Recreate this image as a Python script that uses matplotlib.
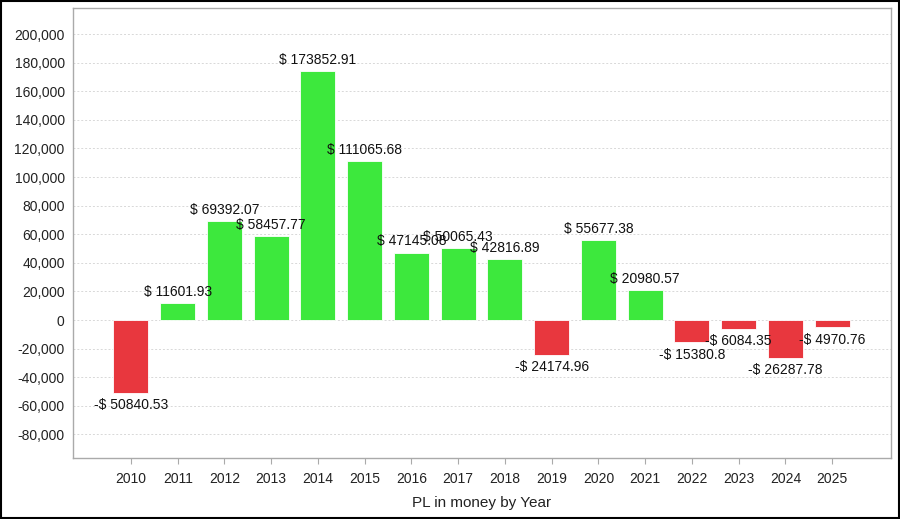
import matplotlib.pyplot as plt
from matplotlib.patches import Rectangle
from matplotlib.ticker import FuncFormatter, MultipleLocator

plt.rcParams['font.family'] = ['Liberation Sans', 'DejaVu Sans']

years = ['2010', '2011', '2012', '2013', '2014', '2015', '2016', '2017',
         '2018', '2019', '2020', '2021', '2022', '2023', '2024', '2025']
pl = [-50840.53, 11601.93, 69392.07, 58457.77, 173852.91, 111065.68,
      47145.08, 50065.43, 42816.89, -24174.96, 55677.38, 20980.57,
      -15380.8, -6084.35, -26287.78, -4970.76]

green = '#3de83d'
red = '#e8373e'

fig = plt.figure(figsize=(9, 5.19), dpi=100)
ax = fig.add_axes([0.0811, 0.1175, 0.909, 0.867])

x = list(range(len(years)))
colors = [green if v >= 0 else red for v in pl]
ax.bar(x, pl, width=0.75, color=colors, edgecolor='white', linewidth=0.6, zorder=3)

# value labels, centred over / under each bar
for i, v in enumerate(pl):
    if v >= 0:
        ax.annotate(f'$ {v}', (i, v), xytext=(0, 3), textcoords='offset points',
                    ha='center', va='bottom', fontsize=10, color='#111111', zorder=4)
    else:
        ax.annotate(f'-$ {abs(v)}', (i, v), xytext=(0, -4), textcoords='offset points',
                    ha='center', va='top', fontsize=10, color='#111111', zorder=4)

ax.set_xlim(-1.24, 16.26)
ax.set_ylim(-96500, 218200)
ax.yaxis.set_major_locator(MultipleLocator(20000))
ax.yaxis.set_major_formatter(FuncFormatter(lambda v, p: f'{v:,.0f}'))
ax.set_xticks(x)
ax.set_xticklabels(years)

ax.grid(axis='y', color='#d8d8d8', linestyle=(0, (2, 2)), linewidth=0.7, zorder=0)
ax.grid(axis='x', visible=False)
for s in ax.spines.values():
    s.set_color('#aaaaaa')
    s.set_linewidth(1.0)

ax.tick_params(axis='y', length=0, pad=6, labelsize=10, labelcolor='#222222')
ax.tick_params(axis='x', length=4, color='#aaaaaa', pad=6, labelsize=10, labelcolor='#222222')
ax.set_xlabel('PL in money by Year', fontsize=11, color='#222222', labelpad=7)

# black frame around the whole image
fig.patches.append(Rectangle((0.001, 0.001), 0.998, 0.997, transform=fig.transFigure,
                             fill=False, edgecolor='black', linewidth=1.5))

fig.savefig('out.png', dpi=100)
